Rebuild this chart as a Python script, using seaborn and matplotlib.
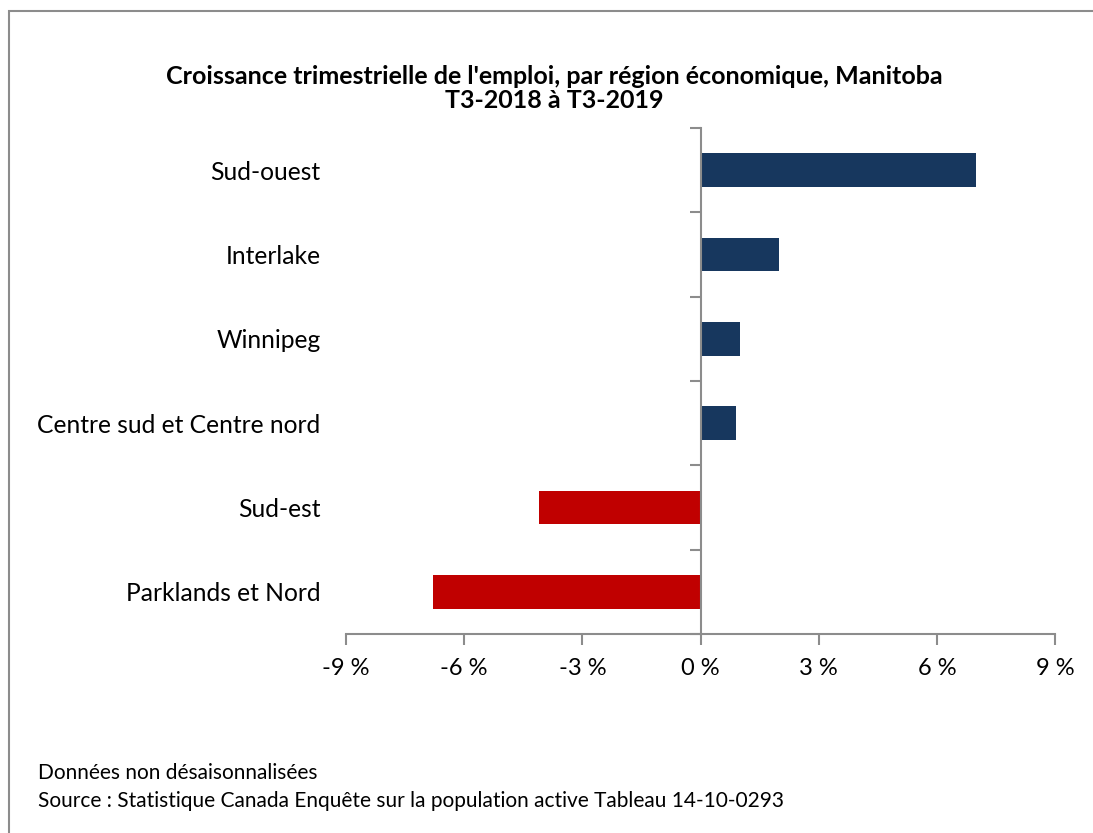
import matplotlib
matplotlib.use("Agg")
import matplotlib.pyplot as plt
import matplotlib.patches as mpatches
from matplotlib.ticker import FixedLocator, FuncFormatter
import seaborn as sns
import pandas as pd
import numpy as np

regions = ["Sud-ouest", "Interlake", "Winnipeg", "Centre sud et Centre nord", "Sud-est", "Parklands et Nord"]
growth = [7.0, 2.0, 1.0, 0.9, -4.1, -6.8]
x_ticks = [-9, -6, -3, 0, 3, 6, 9]

title_line1 = "Croissance trimestrielle de l'emploi, par région économique, Manitoba"
title_line2 = "T3-2018 à T3-2019"
note1 = "Données non désaisonnalisées"
note2 = "Source : Statistique Canada Enquête sur la population active Tableau 14-10-0293"

df = pd.DataFrame({"region": regions, "growth": growth})
df["sign"] = np.where(df["growth"] >= 0, "pos", "neg")

sns.set_theme(style="white")
plt.rcParams["font.family"] = ["Lato", "DejaVu Sans"]

fig = plt.figure(figsize=(10.93, 8.33), dpi=100)
ax = fig.add_axes([346/1093, 1-634/833, (1055-346)/1093, (634-128)/833])

sns.barplot(data=df, y="region", x="growth", hue="sign",
            palette={"pos": "#17375E", "neg": "#C00000"},
            order=regions, width=0.4, legend=False, ax=ax,
            saturation=1, edgecolor="none")

ax.set_xlim(-9, 9)
ax.set_ylim(len(regions) - 0.5, -0.5)
ax.set_xlabel("")
ax.set_ylabel("")

gray = "#8C8C8C"
for s in ["top", "right"]:
    ax.spines[s].set_visible(False)
ax.spines["left"].set_position(("data", 0))
ax.spines["left"].set_color(gray)
ax.spines["left"].set_linewidth(1.5)
ax.spines["bottom"].set_color(gray)
ax.spines["bottom"].set_linewidth(1.5)

ax.set_xticks(x_ticks)
ax.xaxis.set_major_formatter(FuncFormatter(lambda v, p: f"{int(v)} %"))
ax.tick_params(axis="x", direction="out", length=8, width=1.5, color=gray,
               labelsize=17, pad=9, bottom=True, labelcolor="black")

ax.yaxis.set_minor_locator(FixedLocator(np.arange(-0.5, len(regions), 1.0)))
ax.tick_params(axis="y", which="minor", direction="out", length=8, width=1.5, color=gray, left=True)
ax.tick_params(axis="y", which="major", length=0, pad=(700-320)*0.72, labelsize=17.7,
               labelcolor="black")

fig.text(0.507, 1-77/833, title_line1, ha="center", va="center", fontsize=18,
         fontweight="bold", color="black")
fig.text(0.507, 1-101/833, title_line2, ha="center", va="center", fontsize=18,
         fontweight="bold", color="black")
fig.text(38/1093, 1-773/833, note1, ha="left", va="center", fontsize=15, color="black")
fig.text(38/1093, 1-801/833, note2, ha="left", va="center", fontsize=15, color="black")

frame = mpatches.Rectangle((9/1093, -0.1), 1.5, (1 - 11/833) + 0.1,
                           transform=fig.transFigure, fill=False, edgecolor=gray, linewidth=1.5)
fig.patches.append(frame)

fig.savefig("out.png", dpi=100)
